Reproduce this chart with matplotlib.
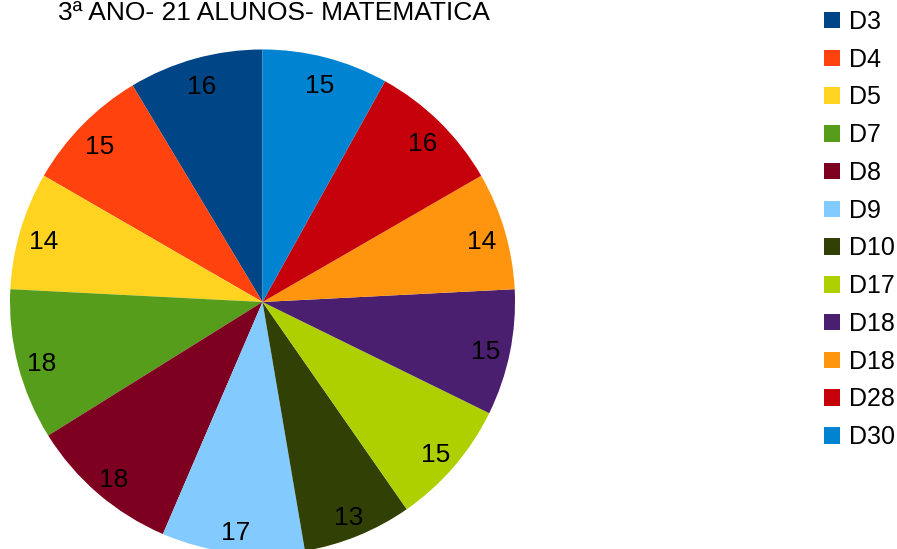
import matplotlib.pyplot as plt
from matplotlib.patches import Patch

plt.rcParams['font.family'] = ['Liberation Sans', 'DejaVu Sans']

# descritores e quantidade de acertos
labels = ['D3', 'D4', 'D5', 'D7', 'D8', 'D9', 'D10', 'D17', 'D18', 'D18', 'D28', 'D30']
values = [16, 15, 14, 18, 18, 17, 13, 15, 15, 14, 16, 15]
colors = ['#004586', '#ff420e', '#ffd320', '#579d1c', '#7e0021', '#83caff',
          '#314004', '#aecf00', '#4b1f6f', '#ff950e', '#c5000b', '#0084d1']

fig = plt.figure(figsize=(8.97, 5.49), dpi=100)
ax = fig.add_axes([0.01115, -0.0100, 0.563, 0.9199])

# pie starts at top and goes counterclockwise (like LibreOffice)
wedges, texts, autotexts = ax.pie(
    values, colors=colors, startangle=90, counterclock=True,
    autopct=lambda p: '%d' % round(p * sum(values) / 100),
    pctdistance=0.903, radius=1,
    wedgeprops=dict(linewidth=0),
    textprops=dict(fontsize=19, color='black'))
ax.set_xlim(-1, 1)
ax.set_ylim(-1, 1)
ax.set_aspect('equal')
for w in wedges:
    w.set_clip_on(False)
# nudge the numbers a little down, as LibreOffice does
for t in autotexts:
    x, y = t.get_position()
    t.set_position((x, y - 0.008))
    t.set_va('center_baseline')

fig.text(0.305, 0.998, '3ª ANO- 21 ALUNOS- MATEMATICA', ha='center', va='top',
         fontsize=19)

handles = [Patch(facecolor=c, edgecolor='none') for c in colors]
fig.legend(handles, labels, loc='upper left', bbox_to_anchor=(0.9186, 0.982),
           frameon=False, fontsize=18, handlelength=0.65, handleheight=0.65,
           handletextpad=0.36, labelspacing=0.55, borderaxespad=0, borderpad=0)

fig.savefig('out.png', dpi=100)
